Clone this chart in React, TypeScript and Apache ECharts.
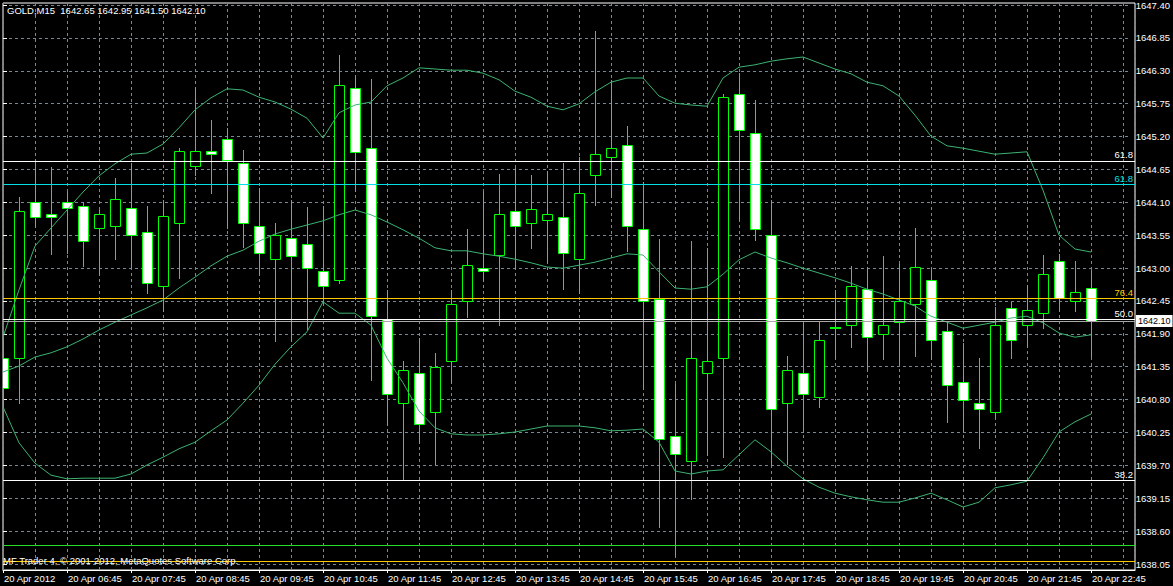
import React, { useEffect, useRef } from 'react';
import * as echarts from 'echarts';

const symbolName = 'GOLD,M15';
const copyright = 'MF Trader 4, © 2001-2012, MetaQuotes Software Corp.';

// one label every 4 bars (15-minute bars, first bar = 05:45)
const timeLabels = [
  '20 Apr 2012', '20 Apr 06:45', '20 Apr 07:45', '20 Apr 08:45', '20 Apr 09:45', '20 Apr 10:45',
  '20 Apr 11:45', '20 Apr 12:45', '20 Apr 13:45', '20 Apr 14:45', '20 Apr 15:45', '20 Apr 16:45',
  '20 Apr 17:45', '20 Apr 18:45', '20 Apr 19:45', '20 Apr 20:45', '20 Apr 21:45', '20 Apr 22:45',
];

const opens = [
  1641.48, 1641.48, 1644.08, 1643.88, 1644.08, 1644.02, 1643.65, 1643.68, 1643.98, 1643.58,
  1642.68, 1643.73, 1644.68, 1644.93, 1645.13, 1644.73, 1643.68, 1643.13, 1643.48, 1643.38,
  1642.93, 1642.78, 1645.98, 1644.98, 1642.13, 1640.73, 1641.23, 1640.58, 1641.43, 1642.43,
  1642.98, 1643.20, 1643.93, 1643.73, 1643.78, 1643.83, 1643.13, 1644.53, 1644.83, 1645.03,
  1643.63, 1642.47, 1640.18, 1639.77, 1641.23, 1641.48, 1645.88, 1645.23, 1643.53, 1640.73,
  1641.23, 1640.83, 1641.98, 1642.03, 1642.63, 1641.88, 1642.08, 1642.38, 1642.78, 1641.93,
  1641.08, 1640.73, 1640.58, 1642.32, 1642.03, 1642.23, 1643.10, 1642.43, 1642.65,
];
const highs = [
  1641.82, 1644.17, 1644.75, 1644.67, 1644.25, 1644.08, 1643.95, 1644.48, 1644.73, 1644.02,
  1644.12, 1644.98, 1646.00, 1645.45, 1645.32, 1644.95, 1644.32, 1643.73, 1644.12, 1644.00,
  1644.02, 1646.53, 1646.20, 1646.13, 1642.62, 1641.43, 1641.82, 1641.57, 1642.62, 1643.63,
  1644.25, 1644.55, 1644.65, 1644.53, 1644.60, 1644.73, 1644.83, 1646.93, 1646.12, 1645.35,
  1644.42, 1643.47, 1641.05, 1643.43, 1643.32, 1645.88, 1646.23, 1645.78, 1644.12, 1641.52,
  1642.07, 1642.10, 1642.62, 1643.02, 1643.00, 1643.18, 1643.05, 1643.65, 1642.98, 1642.08,
  1641.73, 1641.48, 1642.33, 1642.42, 1642.70, 1643.20, 1643.22, 1643.10, 1642.95,
];
const lows = [
  1640.67, 1640.73, 1643.67, 1643.22, 1643.23, 1643.02, 1642.87, 1643.13, 1643.00, 1642.57,
  1642.27, 1642.82, 1644.53, 1644.23, 1643.65, 1643.33, 1642.87, 1641.77, 1641.77, 1641.97,
  1642.40, 1642.73, 1644.27, 1641.12, 1640.37, 1639.47, 1640.07, 1639.72, 1641.08, 1642.17,
  1642.77, 1642.03, 1642.98, 1643.32, 1643.08, 1642.63, 1642.57, 1644.03, 1644.17, 1643.27,
  1640.97, 1638.67, 1638.18, 1639.13, 1639.87, 1639.83, 1643.78, 1643.45, 1639.70, 1639.72,
  1640.28, 1640.67, 1641.48, 1641.67, 1641.28, 1641.47, 1641.38, 1641.52, 1641.47, 1640.42,
  1640.27, 1639.98, 1640.48, 1641.48, 1641.67, 1641.98, 1642.28, 1642.27, 1641.50,
];
const closes = [
  1640.98, 1643.93, 1643.83, 1643.83, 1643.98, 1643.43, 1643.88, 1644.13, 1643.53, 1642.73,
  1643.85, 1644.93, 1644.93, 1644.88, 1644.78, 1643.73, 1643.23, 1643.53, 1643.18, 1642.98,
  1642.68, 1646.03, 1644.92, 1642.18, 1640.88, 1641.28, 1640.38, 1641.33, 1642.38, 1643.03,
  1642.93, 1643.88, 1643.68, 1643.97, 1643.88, 1643.23, 1644.23, 1644.88, 1644.98, 1643.68,
  1642.43, 1640.13, 1639.88, 1641.48, 1641.43, 1645.83, 1645.28, 1643.63, 1640.63, 1641.28,
  1640.88, 1641.78, 1641.98, 1642.68, 1641.83, 1642.03, 1642.43, 1643.00, 1641.78, 1641.03,
  1640.78, 1640.63, 1642.03, 1641.78, 1642.28, 1642.88, 1642.48, 1642.58, 1642.10,
];

const upperBand = [
  1641.83, 1642.62, 1643.35, 1643.65, 1643.95, 1644.25, 1644.52, 1644.72, 1644.88, 1644.90,
  1645.05, 1645.32, 1645.62, 1645.82, 1645.97, 1645.95, 1645.83, 1645.75, 1645.63, 1645.48,
  1645.15, 1645.57, 1645.70, 1645.75, 1646.02, 1646.15, 1646.32, 1646.30, 1646.28, 1646.28,
  1646.23, 1646.12, 1645.93, 1645.83, 1645.68, 1645.62, 1645.72, 1645.92, 1646.08, 1646.15,
  1646.15, 1645.85, 1645.73, 1645.70, 1645.68, 1646.15, 1646.33, 1646.37, 1646.43, 1646.47,
  1646.50, 1646.40, 1646.30, 1646.22, 1646.08, 1646.02, 1645.85, 1645.53, 1645.18, 1645.02,
  1644.98, 1644.93, 1644.88, 1644.90, 1644.92, 1644.28, 1643.53, 1643.30, 1643.25,
];
const middleBand = [
  1641.25, 1641.35, 1641.50, 1641.57, 1641.67, 1641.80, 1641.95, 1642.08, 1642.20, 1642.32,
  1642.45, 1642.65, 1642.83, 1643.02, 1643.18, 1643.28, 1643.43, 1643.55, 1643.63, 1643.70,
  1643.77, 1643.87, 1643.95, 1643.87, 1643.75, 1643.62, 1643.48, 1643.32, 1643.27, 1643.27,
  1643.22, 1643.18, 1643.13, 1643.07, 1643.00, 1642.98, 1643.03, 1643.08, 1643.15, 1643.22,
  1643.20, 1642.92, 1642.65, 1642.63, 1642.67, 1642.88, 1643.12, 1643.25, 1643.15, 1643.07,
  1642.98, 1642.90, 1642.82, 1642.73, 1642.63, 1642.55, 1642.45, 1642.35, 1642.18, 1642.08,
  1641.98, 1642.03, 1642.08, 1642.15, 1642.18, 1642.07, 1641.90, 1641.83, 1641.87,
];
const lowerBand = [
  1640.67, 1640.07, 1639.73, 1639.53, 1639.47, 1639.48, 1639.48, 1639.48, 1639.55, 1639.70,
  1639.83, 1639.97, 1640.08, 1640.27, 1640.45, 1640.73, 1641.03, 1641.38, 1641.67, 1641.92,
  1642.42, 1642.23, 1642.23, 1642.03, 1641.48, 1641.07, 1640.60, 1640.32, 1640.22, 1640.20,
  1640.20, 1640.22, 1640.25, 1640.30, 1640.35, 1640.35, 1640.35, 1640.32, 1640.27, 1640.28,
  1640.30, 1640.08, 1639.60, 1639.55, 1639.60, 1639.62, 1639.87, 1640.12, 1639.92, 1639.68,
  1639.47, 1639.33, 1639.23, 1639.17, 1639.12, 1639.08, 1639.08, 1639.15, 1639.23, 1639.12,
  1639.00, 1639.08, 1639.32, 1639.37, 1639.43, 1639.82, 1640.25, 1640.42, 1640.55,
];

const fibValues = [1644.77, 1644.38, 1642.48, 1642.13, 1639.45];
const fibLabels = ['61.8', '61.8', '76.4', '50.0', '38.2'];
const fibColors = ['#ffffff', '#00e0e6', '#ffc800', '#ffffff', '#ffffff'];
const extraLineValues = [1638.37, 1638.09];
const extraLineColors = ['#22e022', '#ffc800'];

const FONT = '"Liberation Sans", Arial, sans-serif';
const FS = 9.5;
const LIME = '#00ff00';

export default function App() {
  const ref = useRef<HTMLDivElement>(null);

  useEffect(() => {
    if (!ref.current) return;
    const chart = echarts.init(ref.current, undefined, { renderer: 'svg' });
    const last = closes.length - 1;
    const bid = closes[last];
    const header = `${symbolName}  ${opens[last].toFixed(2)} ${highs[last].toFixed(2)} ${lows[last].toFixed(2)} ${closes[last].toFixed(2)}`;

    const candleData = opens.map((o, i) => [i, o, closes[i], lows[i], highs[i]]);

    const markData: any[] = fibValues.map((v, i) => ({
      yAxis: v,
      lineStyle: { color: fibColors[i], width: 1, type: 'solid' },
      label: {
        show: true,
        position: 'insideEndTop',
        formatter: fibLabels[i],
        color: fibColors[i],
        fontSize: FS,
        fontFamily: FONT,
        distance: [2, 1],
      },
    }));
    extraLineValues.forEach((v, i) => {
      markData.push({
        yAxis: v,
        lineStyle: { color: extraLineColors[i], width: 1, type: 'solid' },
        label: { show: false },
      });
    });
    markData.push({
      yAxis: bid,
      lineStyle: { color: '#a8a8a8', width: 1, type: 'solid' },
      label: {
        show: true,
        position: 'end',
        formatter: bid.toFixed(2),
        color: '#000',
        backgroundColor: '#fff',
        padding: [2, 2, 1, 2],
        fontSize: 9,
        fontFamily: FONT,
        distance: 1,
      },
    });

    const bandSeries = [upperBand, middleBand, lowerBand].map((arr, j) => ({
      name: ['Upper', 'Middle', 'Lower'][j],
      type: 'line',
      xAxisIndex: 0,
      yAxisIndex: 0,
      data: arr.map((v, i) => [i, v]),
      showSymbol: false,
      symbol: 'none',
      lineStyle: { color: '#3cb371', width: 1 },
      z: 4,
      silent: true,
    }));

    const option: any = {
      animation: false,
      backgroundColor: '#000',
      title: {
        text: header,
        left: 7,
        top: 5,
        padding: 0,
        textStyle: { color: '#fff', fontSize: FS, fontWeight: 'normal', fontFamily: FONT },
      },
      graphic: [
        {
          type: 'text',
          x: 3,
          y: 555,
          z: 100,
          style: { text: copyright, fill: '#fff', font: `${FS}px ${FONT}`, verticalAlign: 'top' },
        },
      ],
      grid: [
        { left: 3, top: 3, width: 1132, height: 567, show: true, borderColor: '#fff', borderWidth: 1, backgroundColor: 'transparent' },
        { left: 3, top: 3, width: 1132, height: 561 },
        { left: 3, top: 3, width: 1132, height: 567 },
      ],
      xAxis: [
        {
          type: 'value', gridIndex: 0, min: 0, max: 70.75, interval: 4,
          axisLine: { show: true, lineStyle: { color: '#fff' } },
          axisTick: { show: true, length: 3, lineStyle: { color: '#fff' } },
          axisLabel: {
            color: '#fff', fontSize: FS, fontFamily: FONT, align: 'left', margin: 3, padding: [0, 0, 0, 1],
            showMaxLabel: false,
            formatter: (v: number) => {
              const i = Math.round(v);
              if (Math.abs(v - i) > 1e-6 || i % 4 !== 0) return '';
              return timeLabels[i / 4] ?? '';
            },
          },
          splitLine: { show: false },
        },
        { type: 'value', gridIndex: 1, min: 0, max: 70.75, show: false },
        {
          type: 'value', gridIndex: 2, min: 0, max: 70.75, interval: 2,
          axisLine: { show: false }, axisTick: { show: false }, axisLabel: { show: false },
          splitLine: { show: true, lineStyle: { color: '#778899', type: [3, 3], width: 1 } },
        },
      ],
      yAxis: [
        { type: 'value', gridIndex: 0, min: 1637.95, max: 1647.4, show: false },
        {
          type: 'value', gridIndex: 1, position: 'right', min: 1638.05, max: 1647.4, interval: 0.55,
          axisLine: { show: false },
          axisTick: { show: true, length: 4, lineStyle: { color: '#fff' } },
          axisLabel: {
            color: '#fff', fontSize: FS, fontFamily: FONT, margin: 5,
            formatter: (v: number) => v.toFixed(2),
          },
          splitLine: { show: true, lineStyle: { color: '#778899', type: [3, 3], width: 1 } },
        },
        { type: 'value', gridIndex: 2, min: 0, max: 1, show: false },
      ],
      series: [
        {
          name: 'GOLD',
          type: 'custom',
          xAxisIndex: 0,
          yAxisIndex: 0,
          clip: true,
          z: 3,
          silent: true,
          data: candleData,
          encode: { x: 0, y: [1, 2, 3, 4] },
          renderItem: (params: any, api: any) => {
            const x = api.value(0);
            const o = api.value(1);
            const c = api.value(2);
            const l = api.value(3);
            const h = api.value(4);
            const pO = api.coord([x, o]);
            const pC = api.coord([x, c]);
            const pH = api.coord([x, h]);
            const pL = api.coord([x, l]);
            const px = Math.floor(pO[0]);
            const cx = px + 0.5;
            const top = Math.round(Math.min(pO[1], pC[1])) + 0.5;
            const bot = Math.round(Math.max(pO[1], pC[1])) + 0.5;
            const yH = Math.round(pH[1]);
            const yL = Math.round(pL[1]) + 1;
            const bear = c < o;
            const children: any[] = [
              {
                type: 'rect',
                shape: { x: px, y: yH, width: 1, height: Math.max(1, yL - yH) },
                style: { fill: LIME, stroke: null },
              },
            ];
            if (bot - top < 1) {
              children.push({
                type: 'rect',
                shape: { x: px - 5, y: top - 1.5, width: 11, height: 2 },
                style: { fill: LIME, stroke: null },
              });
            } else {
              children.push({
                type: 'rect',
                shape: { x: cx - 5, y: top, width: 10, height: bot - top },
                style: { fill: bear ? '#ffffff' : '#000000', stroke: LIME, lineWidth: 1 },
              });
            }
            return { type: 'group', children };
          },
        },
        ...bandSeries,
        {
          name: 'Levels',
          type: 'line',
          xAxisIndex: 0,
          yAxisIndex: 0,
          data: [],
          z: 5,
          silent: true,
          markLine: {
            silent: true,
            symbol: ['none', 'none'],
            animation: false,
            emphasis: { disabled: true },
            data: markData,
          },
        },
      ],
    };
    chart.setOption(option);
    return () => chart.dispose();
  }, []);

  return (
    <div
      ref={ref}
      style={{ position: 'absolute', left: 0, top: 0, width: 1173, height: 586, background: '#000' }}
    />
  );
}
